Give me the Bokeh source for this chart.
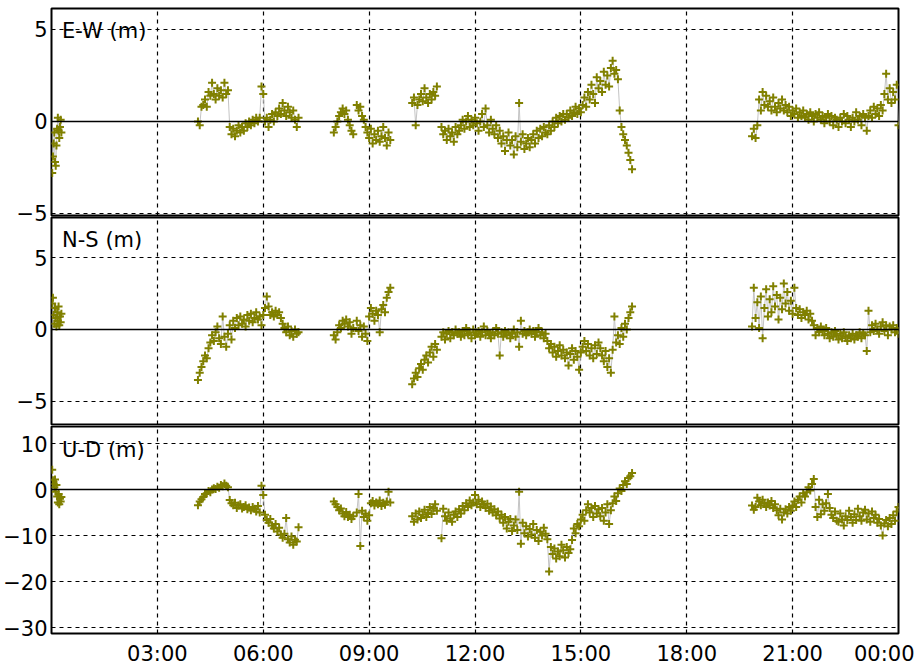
from bokeh.plotting import figure
from bokeh.layouts import column
from bokeh.models import Range1d, FixedTicker, Grid, Span, Label
from bokeh.embed import file_html
from bokeh.resources import INLINE

# ---------------- data (hours of day, metres) ----------------
arc_start = [0.02, 4.15, 8.00, 8.65, 10.22, 11.05, 19.85]
arc_step = [0.02, 0.05, 0.05, 0.05, 0.05, 0.05, 0.05]

ew_a = [-2.8, -1.9, -1.2, -0.6, -2.2, -2.4, -1.3, -0.4, 0.2, -0.5, -0.9, -0.3, 0.1, -0.6]
ew_b = [0.0, -0.2, 0.8, 0.9, 1.2, 0.8, 1.6, 1.4, 2.1, 1.5,
        1.2, 1.8, 1.4, 1.7, 1.3, 2.1, 1.5, 1.7, -0.3, -0.7,
        -0.4, -0.8, -0.5, -0.2, -0.6, -0.3, -0.5, -0.1, -0.3, 0.0,
        -0.2, 0.1, -0.1, 0.2, 0.0, 0.2, 1.9, 1.5, 0.0, 0.2,
        -0.3, 0.1, 0.4, 0.0, 0.5, 0.3, 0.7, 0.4, 1.0, 0.6,
        0.3, 0.8, 0.5, 0.2, 0.6, 0.1, -0.3, 0.2]
ew_c1 = [-0.6, -0.3, 0.0, 0.3, 0.5, 0.7, 0.4, 0.6, 0.1, -0.2, -0.5, -0.7]
ew_c2 = [0.9, 0.6, 0.8, 0.3, 0.1, -0.3, -0.6, -0.9, -0.4, -1.2,
         -0.7, -1.0, -0.5, -1.1, -0.8, -0.3, -0.9, -1.3, -0.6, -1.0]
ew_d = [1.0, 1.3, -0.2, 0.9, 1.2, 1.5, 1.1, 1.8, 1.3, 1.0, 1.5, 1.2, 1.6, 1.4, 1.9]
ew_e = [-0.3, -0.7, -0.5, -1.0, -0.4, -0.8, -0.6, -1.1, -0.3, -0.7,
        -0.5, -0.2, 0.1, -0.4, 0.0, 0.3, -0.3, 0.1, -0.2, 0.2,
        -0.1, -0.5, 0.0, 0.4, -0.3, 0.7, -0.2, -0.6, 0.1, -0.4,
        -0.7, -0.2, -0.9, -0.5, -1.2, -0.8, -1.6, -1.0, -0.6, -1.3,
        -1.0, -1.8, -0.8, -1.4, 1.0, -1.1, -0.7, -1.5, -1.2, -0.9,
        -1.4, -1.0, -0.7, -1.2, -0.5, -0.9, -0.4, -0.8, -0.3, -0.6,
        -0.7, -0.2, -0.5, 0.0, -0.3, 0.2, -0.1, 0.3, 0.0, 0.4,
        0.1, 0.4, 0.2, 0.6, 0.3, 0.5, 0.8, 0.4, 0.7, 0.5,
        0.9, 1.3, 0.8, 1.6, 1.2, 2.0, 1.5, 1.0, 2.4, 1.8,
        2.2, 1.6, 2.7, 2.0, 2.5, 1.9, 2.9, 3.3, 2.6, 2.8,
        2.3, 0.6, -0.3, -0.7, -1.0, -1.3, -1.7, -2.1, -2.6]
ew_f = [-0.8, -0.4, -0.9, -0.2, 1.2, 0.6, 1.6, 0.9, 1.4, 0.8,
        1.1, 0.6, 1.3, 0.8, 0.5, 1.0, 0.7, 1.2, 0.6, 0.9,
        0.5, 0.8, 0.3, 0.6, 0.4, 0.7, 0.2, 0.5, 0.3, 0.6,
        0.2, 0.4, 0.1, 0.5, 0.3, 0.0, 0.4, 0.2, 0.5, 0.1,
        0.3, -0.1, 0.2, 0.4, 0.0, 0.3, -0.2, 0.2, 0.1, -0.3,
        0.2, 0.0, 0.4, -0.1, 0.3, 0.1, -0.3, 0.2, 0.0, 0.5,
        0.1, 0.3, -0.2, 0.4, 0.2, -0.5, 0.3, 0.6, 0.2, 0.8,
        0.4, 0.7, 0.3, 0.9, 0.6, 1.5, 2.6, 1.2, 1.8, 1.0,
        1.6, 1.2, 2.0, -0.2]

ns_a = [1.8, 2.2, 1.0, 0.4, 1.5, 0.8, 0.2, 1.2, 0.6, 1.6, 0.3, 0.9, 0.5, 1.1]
ns_b = [-3.5, -3.0, -2.6, -2.2, -1.8, -2.0, -1.3, -0.9, -0.4, -0.8,
        -0.2, 0.2, -0.6, -1.0, 0.9, -0.5, -1.2, -0.3, 0.3, -0.7,
        0.6, 0.1, 0.8, 0.3, 0.9, 0.4, 0.7, 0.2, 1.0, 0.6,
        1.1, 0.5, 0.8, 1.2, 0.7, 0.9, 0.3, 1.0, 1.5, 2.3,
        1.6, 1.0, 1.2, 0.9, 1.3, 1.0, 1.2, 0.8, 0.4, 0.1,
        -0.2, 0.2, -0.4, -0.1, -0.5, 0.0, -0.3, -0.2]
ns_c1 = [-0.4, -0.7, -0.2, 0.3, 0.1, 0.6, 0.4, 0.7, 0.2, 0.5, -0.3, 0.1]
ns_c2 = [0.6, -0.1, 0.3, -0.5, 0.2, -0.3, -0.8, 0.9, 1.5, 1.1,
         0.6, 1.3, 1.0, -0.2, 1.4, 1.7, 1.2, 2.2, 2.6, 2.9]
ns_d = [-3.8, -3.4, -3.0, -3.3, -2.7, -2.4, -2.8, -2.1, -1.8, -2.3, -1.6, -1.2, -1.9, -1.0, -1.4]
ns_e = [-0.5, -0.2, -0.7, -0.3, -0.1, -0.6, -0.2, -0.4, 0.0, -0.3,
        -0.2, -0.5, -0.1, -0.4, 0.1, -0.3, -0.2, -0.6, 0.0, -0.4,
        -0.3, -0.1, -0.5, -0.2, 0.2, -0.4, -0.1, -0.3, -0.6, -0.2,
        -0.4, 0.1, -0.3, -1.8, -0.2, -0.5, -0.1, -0.4, -0.2, -0.6,
        -0.3, 0.0, -0.5, -0.2, -1.2, 0.6, -0.3, -0.1, -0.4, -0.2,
        0.0, -0.3, -0.1, -0.5, -0.2, 0.1, -0.4, -0.2, -0.6, -0.3,
        -0.8, -1.3, -1.0, -1.6, -1.2, -1.9, -1.5, -1.1, -1.8, -1.4,
        -2.0, -1.6, -2.5, -1.7, -1.3, -2.1, -1.5, -1.9, -2.8, -1.6,
        -1.2, -0.8, -1.5, -1.0, -1.8, -1.3, -2.0, -1.1, -1.7, -0.9,
        -1.3, -1.8, -2.2, -1.5, -2.6, -2.0, -3.0, -1.4, 0.9, -0.9,
        -0.4, -1.0, 0.1, -0.5, 0.4, 0.0, 0.8, 1.2, 1.6]
ns_f = [0.2, 2.9, 0.8, 1.9, 0.1, 2.3, -0.6, 1.5, 2.8, 0.9,
        2.1, 1.2, 3.0, 1.6, 2.4, 0.7, 2.2, 1.4, 3.2, 1.8,
        2.6, 1.3, 2.0, 1.1, 2.9, 1.5, 1.0, 1.4, 0.8, 1.2,
        1.0, 1.3, 0.7, 1.1, 0.6, 0.3, -0.4, 0.1, -0.2, 0.2,
        -0.1, -0.4, 0.1, -0.3, -0.6, -0.2, -0.5, -0.1, -0.4, -0.7,
        -0.3, -0.6, -0.2, -0.5, -0.8, -0.4, -0.6, -0.3, -0.7, -0.4,
        -0.5, -0.2, -0.6, -0.3, -0.4, -1.5, 1.3, -0.2, 0.3, -0.1,
        0.4, 0.0, -0.3, 0.2, 0.5, -0.1, 0.3, -0.4, 0.2, 0.0,
        0.3, -0.2, 0.1, -0.3]

ud_a = [4.3, 2.0, 1.2, 0.5, 2.2, -0.5, 1.0, -1.5, -2.8, -1.0, -3.2, -2.0, -2.6, -1.6]
ud_b = [-3.4, -2.6, -2.1, -1.6, -1.0, -0.8, -0.3, -0.6, 0.0, 0.3,
        0.1, 0.6, 0.4, 1.0, 0.7, 1.3, 0.8, 0.5, -2.3, -3.0,
        -3.4, -2.9, -4.0, -3.5, -3.2, -4.1, -3.8, -3.4, -4.3, -3.9,
        -4.5, -3.8, -4.2, -4.8, -3.6, -5.0, 0.8, -1.2, -5.5, -6.6,
        -7.2, -6.4, -7.8, -8.5, -7.5, -9.1, -8.3, -9.8, -10.5, -9.6,
        -6.2, -10.8, -11.5, -10.2, -12.0, -10.9, -11.3, -8.2]
ud_c1 = [-2.6, -3.2, -3.8, -4.5, -4.1, -5.2, -5.8, -4.9, -6.0, -5.5, -6.4, -5.8]
ud_c2 = [-5.0, -1.0, -12.3, -4.6, -6.0, -5.2, -6.8, -5.6, -3.0, -2.5,
         -3.5, -2.8, -3.2, -2.4, -3.6, -2.9, -3.3, -2.6, -0.5, -2.8]
ud_d = [-5.8, -7.0, -5.2, -6.5, -4.8, -6.2, -5.5, -4.4, -6.0, -5.0, -3.8, -5.3, -4.2, -3.2, -4.6]
ud_e = [-10.6, -4.2, -5.8, -6.8, -5.0, -6.3, -7.0, -5.5, -4.8, -6.0,
        -4.3, -5.2, -3.6, -4.5, -3.0, -3.8, -2.4, -3.4, -2.8, -1.2,
        -3.2, -2.2, -3.8, -2.6, -3.3, -4.0, -3.1, -4.6, -3.7, -5.0,
        -4.3, -5.6, -4.8, -6.3, -5.5, -7.2, -6.0, -8.5, -7.0, -6.4,
        -9.0, -7.8, -6.5, -8.8, -0.5, -11.8, -7.2, -9.5, -8.0, -10.2,
        -8.6, -9.8, -7.5, -10.5, -8.8, -11.2, -9.2, -10.0, -8.3, -9.6,
        -10.8, -17.8, -12.5, -14.0, -12.8, -15.0, -13.5, -14.5, -12.0, -13.2,
        -14.8, -12.5, -13.8, -13.0, -11.0, -8.5, -9.5, -7.5, -8.0, -6.5,
        -5.5, -6.8, -4.5, -3.2, -5.0, -4.0, -6.0, -3.6, -5.2, -4.3,
        -5.8, -4.0, -6.8, -5.0, -3.2, -7.5, -4.5, -3.0, -1.5, -2.5,
        -0.8, 0.2, -0.3, 1.0, 1.8, 1.2, 2.5, 2.9, 3.6]
ud_f = [-3.5, -4.4, -3.8, -1.8, -2.6, -3.4, -2.2, -3.0, -3.8, -2.8,
        -3.5, -2.5, -4.0, -3.2, -4.5, -5.6, -4.2, -6.5, -5.0, -4.3,
        -5.2, -3.8, -4.6, -3.5, -2.6, -3.8, -2.2, -1.5, -2.8, -0.8,
        -1.5, -0.6, 0.5, -0.2, 1.2, 2.3, -3.8, -6.0, -2.2, -5.4,
        -3.2, -4.6, -3.0, -1.0, -4.0, -5.5, -6.2, -4.8, -6.8, -7.0,
        -5.2, -6.5, -7.8, -5.8, -6.6, -4.6, -6.0, -7.2, -5.4, -6.6,
        -4.2, -5.8, -6.8, -5.0, -4.4, -6.5, -5.2, -7.0, -4.8, -6.2,
        -5.5, -7.2, -6.4, -7.8, -10.0, -7.4, -6.6, -8.0, -6.2, -7.5,
        -5.6, -6.8, -4.8, -3.8]

ew_arcs = [ew_a, ew_b, ew_c1, ew_c2, ew_d, ew_e, ew_f]
ns_arcs = [ns_a, ns_b, ns_c1, ns_c2, ns_d, ns_e, ns_f]
ud_arcs = [ud_a, ud_b, ud_c1, ud_c2, ud_d, ud_e, ud_f]

panel_titles = ["E-W (m)", "N-S (m)", "U-D (m)"]
ew_ticks = [-5, 0, 5]
ns_ticks = [-5, 0, 5]
ud_ticks = [-30, -20, -10, 0, 10]
x_ticks = [3, 6, 9, 12, 15, 18, 21, 24]
x_tick_labels = ["03:00", "06:00", "09:00", "12:00", "15:00", "18:00", "21:00", "00:00"]

# ---------------- styling / layout ----------------
FONT = "DejaVu Sans"
FS = "21px"
OLIVE = "#808000"
x_range = Range1d(0, 24)


def make_panel(title, arcs, yr, yticks, label_y, height, show_x, border_top, border_bottom,
               margin=(0, 0, 0, 0), transparent_border=False):
    p = figure(width=914, height=height, x_range=x_range, y_range=Range1d(*yr),
               output_backend="svg", toolbar_location=None,
               x_axis_location="below" if show_x else None,
               min_border_left=48, min_border_right=16,
               min_border_top=border_top, min_border_bottom=border_bottom,
               margin=margin)
    p.outline_line_color = "black"
    p.outline_line_width = 2
    p.background_fill_color = "white"
    p.border_fill_color = None if transparent_border else "white"

    p.yaxis.ticker = FixedTicker(ticks=yticks)
    p.yaxis.axis_line_color = None
    p.yaxis.major_tick_line_color = None
    p.yaxis.minor_tick_line_color = None
    p.yaxis.major_tick_in = 0
    p.yaxis.major_tick_out = 0
    p.yaxis.minor_tick_in = 0
    p.yaxis.minor_tick_out = 0
    p.yaxis.major_label_text_font = FONT
    p.yaxis.major_label_text_font_size = FS
    p.yaxis.major_label_text_color = "black"
    p.yaxis.major_label_standoff = 4

    p.ygrid.ticker = FixedTicker(ticks=[t for t in yticks if t != 0])
    p.ygrid.grid_line_color = "black"
    p.ygrid.grid_line_dash = "4 4"
    p.ygrid.grid_line_width = 1.2

    if len(p.xgrid) == 0:
        p.add_layout(Grid(dimension=0, ticker=FixedTicker(ticks=x_ticks)))
    p.xgrid.ticker = FixedTicker(ticks=x_ticks)
    p.xgrid.grid_line_color = "black"
    p.xgrid.grid_line_dash = "4 4"
    p.xgrid.grid_line_width = 1.2

    if show_x:
        p.xaxis.ticker = FixedTicker(ticks=x_ticks)
        p.xaxis.major_label_overrides = dict(zip(x_ticks, x_tick_labels))
        p.xaxis.axis_line_color = None
        p.xaxis.major_tick_line_color = None
        p.xaxis.minor_tick_line_color = None
        p.xaxis.major_tick_in = 0
        p.xaxis.major_tick_out = 0
        p.xaxis.minor_tick_in = 0
        p.xaxis.minor_tick_out = 0
        p.xaxis.major_label_text_font = FONT
        p.xaxis.major_label_text_font_size = FS
        p.xaxis.major_label_text_color = "black"
        p.xaxis.major_label_standoff = 8

    p.add_layout(Span(location=0, dimension="width", line_color="black", line_width=1.5))

    for start, step, vals in zip(arc_start, arc_step, arcs):
        t = [start + i * step for i in range(len(vals))]
        p.line(t, vals, line_color="#c4c4c4", line_width=1)
        p.scatter(t, vals, marker="cross", size=8, line_color=OLIVE, line_width=2)

    p.add_layout(Label(x=0.3, y=label_y, text=title, text_font=FONT, text_font_size=FS,
                       text_baseline="middle", text_color="black"))
    return p


# the E-W canvas reaches 16 px below its frame so that its "-5" label is not cut;
# the N-S panel (transparent border) is pulled up over that strip
p1 = make_panel(panel_titles[0], ew_arcs, (-5.11, 6.14), ew_ticks, 4.9, 232, False, 8, 17,
                margin=(0, 0, -16, 0))
p2 = make_panel(panel_titles[1], ns_arcs, (-6.60, 7.78), ns_ticks, 6.2, 209, False, 1, 1,
                transparent_border=True)
p3 = make_panel(panel_titles[2], ud_arcs, (-31.3, 13.7), ud_ticks, 8.7, 243, True, 1, 35)

layout = column(p1, p2, p3, spacing=0)
open("out.html", "w").write(file_html(layout, INLINE))
